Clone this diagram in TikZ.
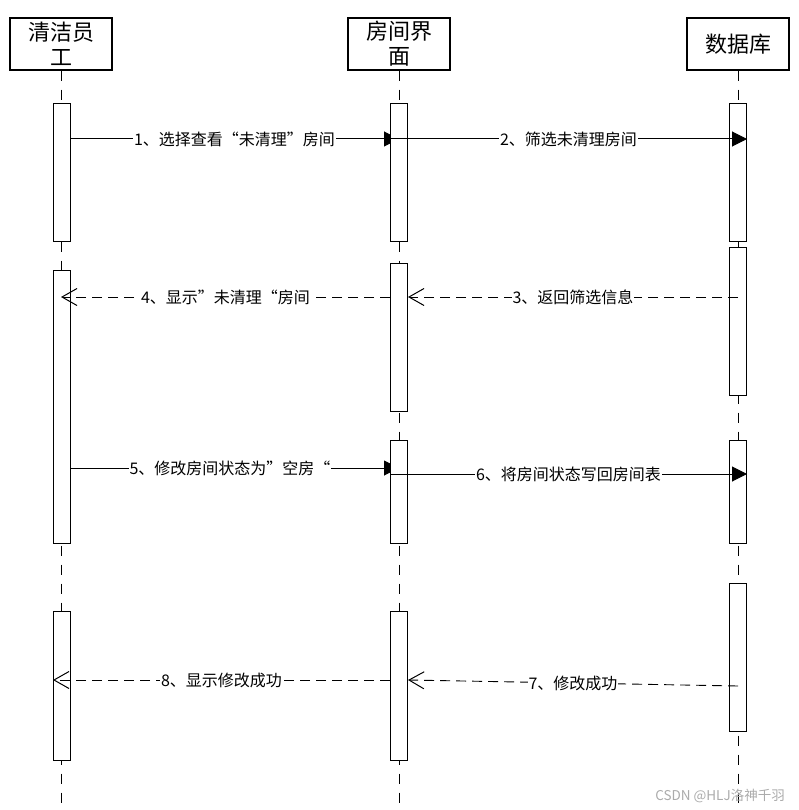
\documentclass[tikz,border=0pt]{standalone}
\usepackage{fontspec}
\setmainfont{Noto Sans CJK SC}
\usetikzlibrary{arrows.meta}
\begin{document}
\begin{tikzpicture}[x=1pt,y=-1pt,
 head/.style={draw,line width=1.2pt,minimum width=102pt,minimum height=52pt,inner sep=0pt,align=center,font=\fontsize{22}{25}\selectfont},
 bar/.style={draw,fill=white,line width=1pt,minimum width=17pt,inner sep=0pt},
 life/.style={line width=1pt,dash pattern=on 10pt off 9pt},
 sync/.style={line width=1pt,-{Triangle[length=15pt,width=15pt]}},
 ret/.style={line width=0.9pt,dash pattern=on 10pt off 6pt,-{Straight Barb[length=15pt,width=17pt,line width=1pt]}},
 lbl/.style={fill=white,inner sep=1pt,font=\fontsize{16}{19}\selectfont}]
\useasboundingbox (0,0) rectangle (798,810);
% headers
\node[head] (h1) at (61,44) {清洁员\\工};
\node[head] (h2) at (399,44) {房间界\\面};
\node[head] (h3) at (738,44) {数据库};
% lifeline ends
\coordinate (e1) at (61,805);
\coordinate (e2) at (399,805);
\coordinate (e3) at (738,805);
\draw[life] (h1.south) -- (e1);
\draw[life] (h2.south) -- (e2);
\draw[life] (h3.south) -- (e3);
% endpoints
\coordinate (m1s) at (70,139);  \coordinate (m1e) at (399,139);
\coordinate (m5s) at (61,468);  \coordinate (m5e) at (399,468);
% messages under bars
\draw[sync] (m1s) -- node[lbl]{1、选择查看“未清理”房间} (m1e);
\draw[sync] (m5s) -- node[lbl]{5、修改房间状态为”空房“} (m5e);
% activation bars
\node[bar,minimum height=137pt] (a1) at (61.5,172.5) {};
\node[bar,minimum height=273pt] (a2) at (61.5,406.5) {};
\node[bar,minimum height=149pt] (a3) at (61.5,685.5) {};
\node[bar,minimum height=137pt] (b1) at (399,172.5) {};
\node[bar,minimum height=148pt] (b2) at (399,337) {};
\node[bar,minimum height=103pt] (b3) at (399,491.5) {};
\node[bar,minimum height=149pt] (b4) at (399,685.5) {};
\node[bar,minimum height=137pt] (c1) at (738,172.5) {};
\node[bar,minimum height=148pt] (c2) at (738,321) {};
\node[bar,minimum height=103pt] (c3) at (738,491.5) {};
\node[bar,minimum height=148pt] (c4) at (738,657) {};
% other endpoints
\coordinate (m2s) at (390,139); \coordinate (m2e) at (747,139);
\coordinate (m3s) at (738,297); \coordinate (m3e) at (408,297);
\coordinate (m4s) at (390,297); \coordinate (m4e) at (61,297);
\coordinate (m6s) at (390,474); \coordinate (m6e) at (747,474);
\coordinate (m7s) at (738,686); \coordinate (m7e) at (408,680);
\coordinate (m8s) at (390,680); \coordinate (m8e) at (53,680);
\draw[sync] (m2s) -- node[lbl]{2、筛选未清理房间} (m2e);
\draw[ret] (m3s) -- node[lbl]{3、返回筛选信息} (m3e);
\draw[ret] (m4s) -- node[lbl]{4、显示”未清理“房间} (m4e);
\draw[sync] (m6s) -- node[lbl]{6、将房间状态写回房间表} (m6e);
\draw[ret] (m7s) -- node[lbl]{7、修改成功} (m7e);
\draw[ret] (m8s) -- node[lbl]{8、显示修改成功} (m8e);
% watermark
\node[font=\fontsize{13.5}{16}\selectfont,text=black!33,inner sep=0pt] (wm) at (720,796) {CSDN @HLJ洛神千羽};
\end{tikzpicture}
\end{document}
